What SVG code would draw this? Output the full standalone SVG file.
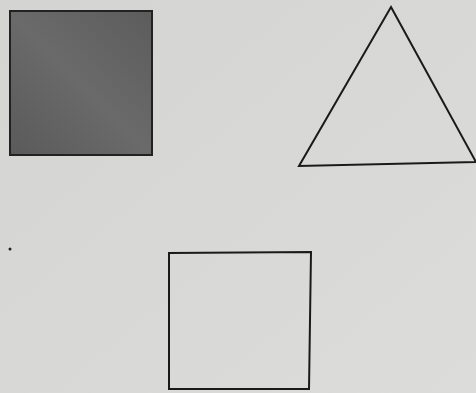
<svg xmlns="http://www.w3.org/2000/svg" width="476" height="393" viewBox="0 0 476 393">
<defs>
<style>
.shape{fill:none;stroke:#1a1a1a;stroke-width:2;stroke-linejoin:miter}
</style>
<linearGradient id="paper" x1="0" y1="0" x2="1" y2="1">
<stop offset="0" stop-color="#d4d4d2"/>
<stop offset="1" stop-color="#dcdcda"/>
</linearGradient>
<linearGradient id="dark" x1="0" y1="1" x2="1" y2="0">
<stop offset="0" stop-color="#5a5a5a"/>
<stop offset="0.5" stop-color="#6a6a6a"/>
<stop offset="1" stop-color="#5c5c5c"/>
</linearGradient>
</defs>
<rect width="476" height="393" fill="url(#paper)"/>
<g id="filled-square">
<rect x="10" y="11" width="142" height="144" fill="url(#dark)" stroke="#222" stroke-width="2"/>
</g>
<g id="triangle">
<path class="shape" d="M391 7 L476 162 L299 166 Z"/>
</g>
<g id="outline-square">
<path class="shape" d="M169 253 L311 252 L309 389 L169 389 Z"/>
</g>
<circle cx="10" cy="249" r="1.5" fill="#222"/>
</svg>
